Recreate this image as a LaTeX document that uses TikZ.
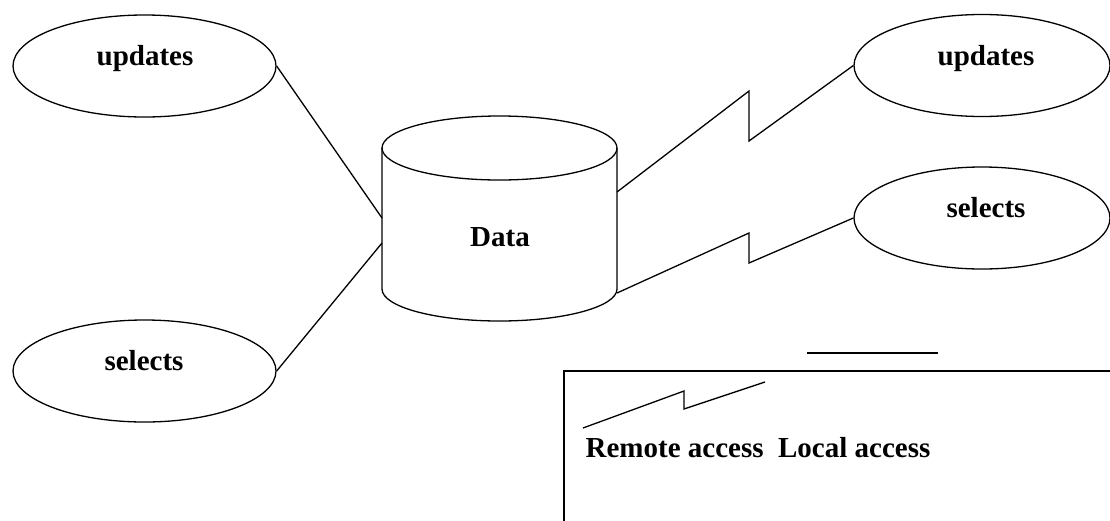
\documentclass[tikz,border=0pt]{standalone}
\usepackage{fontspec}
\setmainfont{Liberation Serif}
\usetikzlibrary{shapes.geometric}
\begin{document}
\begin{tikzpicture}[x=1pt,y=-1pt,
  line width=1.3pt, line join=miter,
  oval/.style={draw, ellipse, minimum width=263pt, minimum height=102pt, inner sep=0pt},
  lbl/.style={anchor=base, inner sep=0pt, font=\fontsize{29}{34}\selectfont\bfseries},
  ]
\useasboundingbox (0,0) rectangle (1110,520);
% ellipses
\node[oval] (lu) at (144.5,66) {};
\node[oval] (ls) at (144.5,371) {};
\node[oval, minimum width=256pt] (ru) at (982,65.5) {};
\node[oval, minimum width=256pt] (rs) at (982,218) {};
\node[lbl] (tlu) at (145,65) {updates};
\node[lbl] (tls) at (144,370) {selects};
\node[lbl] (tru) at (986,65) {updates};
\node[lbl] (trs) at (986,217) {selects};
% cylinder
\coordinate (ctl) at (382,148);
\coordinate (ctr) at (617,148);
\coordinate (cbl) at (382,289);
\coordinate (cbr) at (617,289);
\draw (499.5,148) ellipse [x radius=117.5, y radius=32];
\draw (ctl) -- (cbl) arc[start angle=180, end angle=360, x radius=117.5, y radius=-32] -- (ctr);
\node[lbl] (data) at (500,246) {Data};
% connector ends
\coordinate (d1) at (382,218);
\coordinate (d2) at (382,243);
\coordinate (d3) at (617,192);
\coordinate (d4) at (617,293);
\draw (lu.east) -- (d1);
\draw (ls.east) -- (d2);
\draw (d3) -- (749,91) -- (749,141) -- (ru.west);
\draw (d4) -- (749,233) -- (749,263) -- (rs.west);
% legend
\coordinate (la) at (807,353);
\coordinate (lb) at (938,353);
\draw (la) -- (lb);
\draw (1120,371) -- (564,371) -- (564,530);
\coordinate (z1) at (583,428);
\coordinate (z2) at (765,382);
\draw (z1) -- (684,391) -- (684,409) -- (z2);
\node[lbl, anchor=base west] (leg) at (585,457) {Remote access~~Local access};
\end{tikzpicture}
\end{document}
